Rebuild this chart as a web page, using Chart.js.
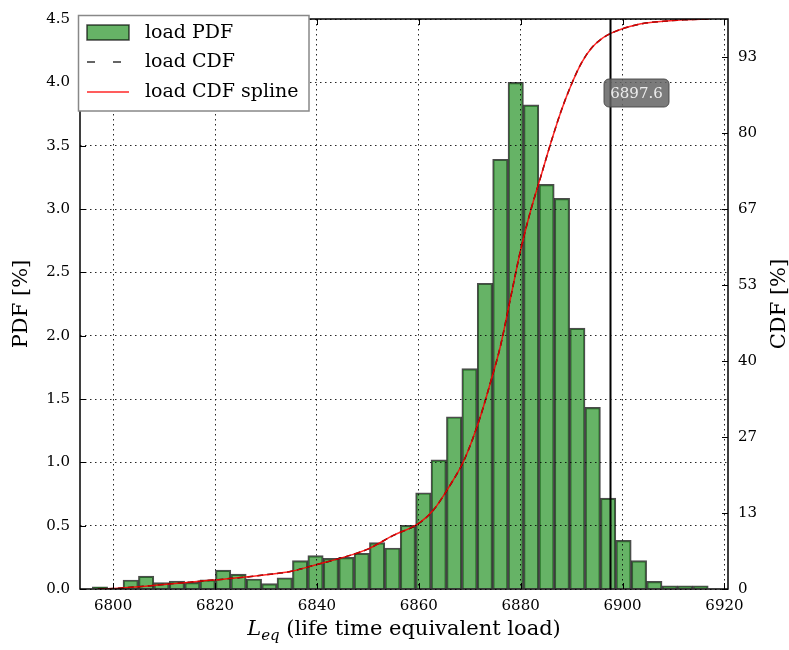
<!DOCTYPE html>
<html>
<head>
<meta charset="utf-8">
<script src="https://cdn.jsdelivr.net/npm/chart.js@4/dist/chart.umd.min.js"></script>
<style>
  body { margin: 0; background: #fff; }
  canvas { display: block; }
</style>
</head>
<body>
<canvas id="chart" width="789" height="650"></canvas>
<script>
// ---- data ----
// histogram bins: 40 bins, first edge and width in load units
const binStart = 6795.9;
const binWidth = 3.023;
const pdfValues = [0.018, 0, 0.071, 0.102, 0.05, 0.063, 0.052, 0.073, 0.149, 0.118,
  0.079, 0.042, 0.089, 0.224, 0.263, 0.242, 0.25, 0.282, 0.366, 0.324,
  0.503, 0.76, 1.02, 1.36, 1.74, 2.414, 3.393, 4.0, 3.822, 3.194,
  3.084, 2.06, 1.434, 0.718, 0.384, 0.224, 0.06, 0.026, 0.026, 0.026];

// CDF curve samples
const cdfLoad = [6797, 6800, 6805, 6810, 6815, 6820, 6825, 6830, 6835, 6840, 6845, 6850,
  6855, 6860, 6863, 6866, 6869, 6872, 6874, 6876, 6878, 6880, 6882, 6884, 6886, 6888,
  6890, 6892, 6894, 6896, 6898, 6900, 6902, 6904, 6908, 6912, 6917];
const cdfPct = [0.0, 0.1, 0.4, 0.8, 1.2, 1.6, 2.0, 2.5, 3.1, 4.3, 5.5, 7.0,
  9.4, 11.5, 14.0, 18.0, 22.8, 30.0, 36.0, 42.5, 51.0, 59.5, 66.5, 72.5, 78.5, 84.0,
  88.6, 92.4, 95.0, 96.6, 97.6, 98.3, 98.8, 99.2, 99.6, 99.85, 100];

const xTicks = [6800, 6820, 6840, 6860, 6880, 6900, 6920];
const pdfTicks = [0, 0.5, 1.0, 1.5, 2.0, 2.5, 3.0, 3.5, 4.0, 4.5];
const cdfTicks = [0, 13.333, 26.667, 40, 53.333, 66.667, 80, 93.333];
const markerValue = 6897.6;

const legendItems = ['load PDF', 'load CDF', 'load CDF spline'];

// ---- build datasets ----
const barData = pdfValues.map((v, i) => ({ x: binStart + binWidth * (i + 0.5), y: v }));
const cdfData = cdfLoad.map((x, i) => ({ x: x, y: cdfPct[i] }));

const SERIF = '"DejaVu Serif", "Liberation Serif", serif';

// ---- extras: frame, inward ticks, marker, legend, axis titles ----
const decor = {
  id: 'decor',
  afterDraw(chart) {
    const ctx = chart.ctx;
    const a = chart.chartArea;
    const xs = chart.scales.x, ys = chart.scales.y, ys2 = chart.scales.y2;
    ctx.save();

    // marker line
    const mx = Math.round(xs.getPixelForValue(markerValue)) + 0.5;
    ctx.strokeStyle = '#000';
    ctx.lineWidth = 2;
    ctx.beginPath();
    ctx.moveTo(mx, a.top);
    ctx.lineTo(mx, a.bottom);
    ctx.stroke();

    // inward ticks
    ctx.lineWidth = 1;
    ctx.beginPath();
    xTicks.forEach(v => {
      const p = Math.round(xs.getPixelForValue(v)) + 0.5;
      ctx.moveTo(p, a.bottom); ctx.lineTo(p, a.bottom - 6);
      ctx.moveTo(p, a.top); ctx.lineTo(p, a.top + 6);
    });
    pdfTicks.forEach(v => {
      const p = Math.round(ys.getPixelForValue(v)) + 0.5;
      ctx.moveTo(a.left, p); ctx.lineTo(a.left + 6, p);
    });
    cdfTicks.forEach(v => {
      const p = Math.round(ys2.getPixelForValue(v)) + 0.5;
      ctx.moveTo(a.right, p); ctx.lineTo(a.right - 6, p);
    });
    ctx.stroke();

    // frame
    ctx.lineWidth = 1.5;
    ctx.strokeRect(a.left, a.top, a.right - a.left, a.bottom - a.top);

    // marker label box
    const bx = 604, by = 79, bw = 65, bh = 28;
    ctx.beginPath();
    ctx.roundRect(bx, by, bw, bh, 5);
    ctx.fillStyle = 'rgba(100,100,100,0.85)';
    ctx.fill();
    ctx.strokeStyle = 'rgba(70,70,70,0.9)';
    ctx.lineWidth = 1;
    ctx.stroke();
    ctx.fillStyle = '#eeeeee';
    ctx.font = '15px ' + SERIF;
    ctx.textAlign = 'center';
    ctx.textBaseline = 'middle';
    ctx.fillText(String(markerValue), bx + bw / 2, by + bh / 2 + 1);

    // legend
    ctx.fillStyle = '#fff';
    ctx.fillRect(79, 16, 230, 95);
    ctx.strokeStyle = '#888';
    ctx.lineWidth = 1.5;
    ctx.strokeRect(78.5, 15.5, 230.5, 95.5);
    const rows = [33, 62, 92];
    // patch
    ctx.fillStyle = 'rgba(0,128,0,0.6)';
    ctx.fillRect(87, 25, 42, 15);
    ctx.strokeStyle = 'rgba(0,0,0,0.7)';
    ctx.lineWidth = 1.5;
    ctx.strokeRect(87, 25, 42, 15);
    // dashed line
    ctx.strokeStyle = '#333';
    ctx.lineWidth = 1.5;
    ctx.setLineDash([8, 18]);
    ctx.beginPath();
    ctx.moveTo(87, rows[1]); ctx.lineTo(129, rows[1]);
    ctx.stroke();
    ctx.setLineDash([]);
    // red line
    ctx.strokeStyle = 'rgba(255,0,0,0.85)';
    ctx.beginPath();
    ctx.moveTo(87, rows[2]); ctx.lineTo(129, rows[2]);
    ctx.stroke();
    ctx.fillStyle = '#000';
    ctx.font = '19px ' + SERIF;
    ctx.textAlign = 'left';
    ctx.textBaseline = 'middle';
    legendItems.forEach((t, i) => ctx.fillText(t, 145, rows[i]));

    // axis titles
    ctx.font = '21px ' + SERIF;
    ctx.textAlign = 'center';
    ctx.textBaseline = 'middle';
    const cy = (a.top + a.bottom) / 2;
    ctx.save();
    ctx.translate(22, cy);
    ctx.rotate(-Math.PI / 2);
    ctx.fillText('PDF [%]', 0, 0);
    ctx.restore();
    ctx.save();
    ctx.translate(780, cy);
    ctx.rotate(-Math.PI / 2);
    ctx.fillText('CDF [%]', 0, 0);
    ctx.restore();

    // x title with italic L and subscript eq
    const mainFont = '21px ' + SERIF;
    const itFont = 'italic 21px ' + SERIF;
    const subFont = 'italic 15px ' + SERIF;
    const rest = ' (life time equivalent load)';
    ctx.textBaseline = 'alphabetic';
    ctx.textAlign = 'left';
    ctx.font = itFont; const wL = ctx.measureText('L').width;
    ctx.font = subFont; const wS = ctx.measureText('eq').width;
    ctx.font = mainFont; const wR = ctx.measureText(rest).width;
    let tx = (a.left + a.right) / 2 - (wL + wS + wR) / 2;
    const base = 635;
    ctx.font = itFont; ctx.fillText('L', tx, base); tx += wL;
    ctx.font = subFont; ctx.fillText('eq', tx, base + 5); tx += wS;
    ctx.font = mainFont; ctx.fillText(rest, tx, base);

    ctx.restore();
  }
};

const tickFont = { family: SERIF, size: 15 };

new Chart(document.getElementById('chart'), {
  type: 'bar',
  data: {
    datasets: [
      {
        type: 'line',
        label: 'load CDF spline',
        data: cdfData,
        yAxisID: 'y2',
        borderColor: 'rgba(255,0,0,0.85)',
        borderWidth: 1.5,
        pointRadius: 0,
        cubicInterpolationMode: 'monotone',
        order: 0
      },
      {
        type: 'line',
        label: 'load CDF',
        data: cdfData,
        yAxisID: 'y2',
        borderColor: '#000',
        borderDash: [6, 4],
        borderWidth: 1.5,
        pointRadius: 0,
        cubicInterpolationMode: 'monotone',
        order: 1
      },
      {
        label: 'load PDF',
        data: barData,
        yAxisID: 'y',
        backgroundColor: 'rgba(0,128,0,0.6)',
        borderColor: 'rgba(0,0,0,0.7)',
        borderWidth: 1.5,
        barPercentage: 1,
        categoryPercentage: 1,
        order: 2
      }
    ]
  },
  options: {
    responsive: false,
    animation: false,
    devicePixelRatio: 1,
    layout: { padding: { top: 16, left: 0, right: 0, bottom: 0 } },
    plugins: { legend: { display: false }, tooltip: { enabled: false } },
    scales: {
      x: {
        type: 'linear',
        offset: false,
        min: 6793.5,
        max: 6920.7,
        afterBuildTicks: s => { s.ticks = xTicks.map(v => ({ value: v })); },
        afterFit: s => { s.height = 61; },
        ticks: { font: tickFont, color: '#000', padding: 8, autoSkip: false, maxRotation: 0,
          callback: v => String(v) },
        grid: { color: 'rgba(0,0,0,0.85)', lineWidth: 1, drawTicks: false, offset: false, z: 1 },
        border: { display: false, dash: [1.5, 3.5] }
      },
      y: {
        position: 'left',
        min: 0,
        max: 4.5,
        afterBuildTicks: s => { s.ticks = pdfTicks.map(v => ({ value: v })); },
        afterFit: s => { s.width = 80; },
        ticks: { font: tickFont, color: '#000', padding: 10, autoSkip: false,
          callback: v => Number(v).toFixed(1) },
        grid: { color: 'rgba(0,0,0,0.85)', lineWidth: 1, drawTicks: false, z: 1 },
        border: { display: false, dash: [1.5, 3.5] }
      },
      y2: {
        position: 'right',
        min: 0,
        max: 100,
        afterBuildTicks: s => { s.ticks = cdfTicks.map(v => ({ value: v })); },
        afterFit: s => { s.width = 61; },
        ticks: { font: tickFont, color: '#000', padding: 10, autoSkip: false,
          callback: v => String(Math.round(v)) },
        grid: { display: false, drawTicks: false },
        border: { display: false }
      }
    }
  },
  plugins: [decor]
});
</script>
</body>
</html>
